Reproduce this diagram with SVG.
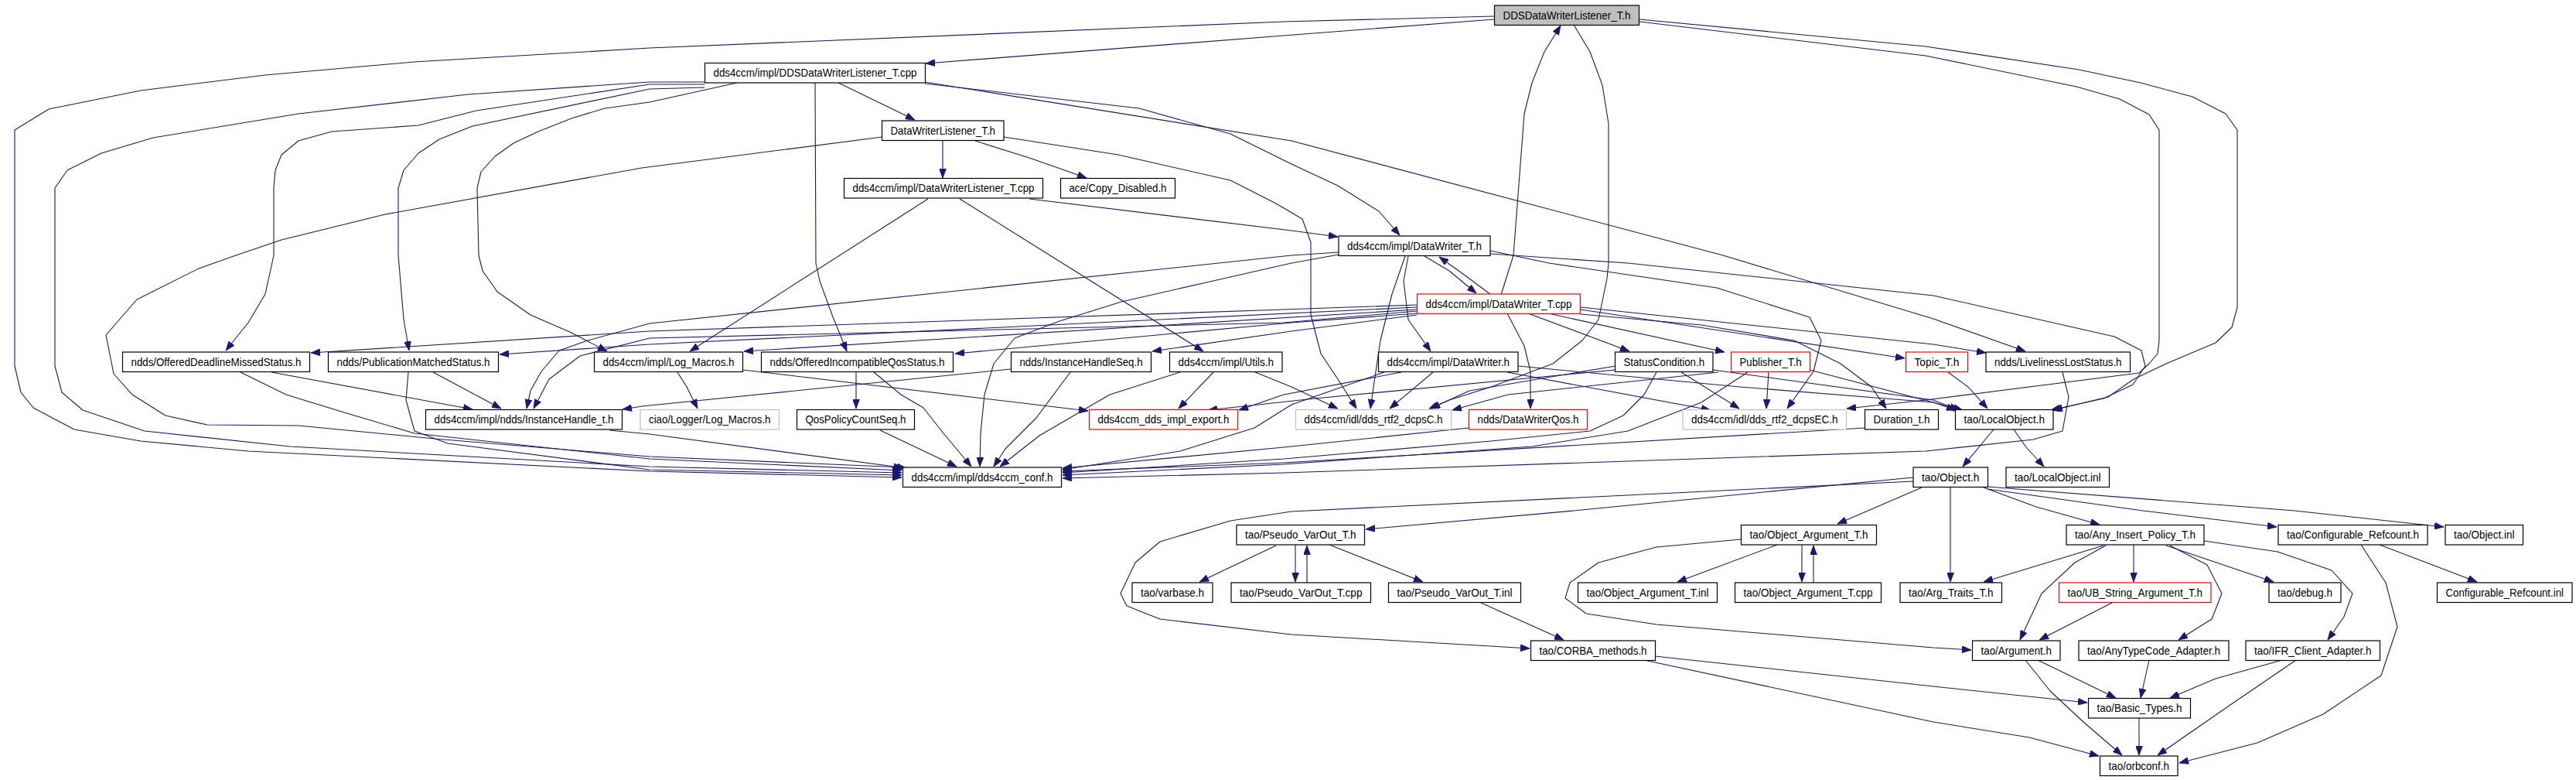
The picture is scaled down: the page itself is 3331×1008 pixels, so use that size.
<svg xmlns="http://www.w3.org/2000/svg" width="3331" height="1008" viewBox="0 0 3331 1008">
<style>
.bg{fill:#ffffff}
rect.n{fill:#ffffff;stroke:#000000;stroke-width:1.2}
rect.g{fill:#ffffff;stroke:#bfbfbf;stroke-width:1.2}
rect.r{fill:#ffffff;stroke:#ff0000;stroke-width:1.2}
rect.root{fill:#bfbfbf;stroke:#000000;stroke-width:1.2}
text{font-family:"Liberation Sans Narrow","Liberation Sans",Arial,sans-serif;font-size:15px;fill:#000000;text-anchor:middle}
#edges path{fill:none;stroke:#191970;stroke-width:1.1;stroke-linejoin:round;marker-end:url(#a)}
</style>
<defs>
<marker id="a" viewBox="0 0 12 9" refX="12" refY="4.5" markerWidth="12" markerHeight="9" markerUnits="userSpaceOnUse" orient="auto">
<path d="M0,0 L12,4.5 L0,9 z" fill="#191970" stroke="#191970" stroke-width="0.8"/>
</marker>
</defs>
<rect class="bg" x="0" y="0" width="3331" height="1008"/>
<g id="edges">
<path d="M1932,25 L1660,46 L1197,82"/>
<path d="M1932,21 L1660,28 L840,62 L536,80 L343,97 L182,117 L63,141 L19,168 L19,473 L27,507 L43,527 L96,555 L182,570 L321,583 L840,609 L1166,617"/>
<path d="M2035,32 L2056,67 L2072,110 L2080,160 L2080,340 L2078,360 L2067,413 L2046,440 L2008,470 L1928,500 L1874,517 L1848,528"/>
<path d="M2120,25 L2490,60 L2688,90 L2768,107 L2835,125 L2878,147 L2893,168 L2893,397 L2886,423 L2865,443 L2801,470 L2759,490 L2726,513 L2655,530"/>
<path d="M2120,28 L2490,72 L2685,112 L2741,128 L2779,148 L2792,168 L2792,440 L2790,457 L2779,470 L2766,482 L2490,517 L2388,528"/>
<path d="M1084,107 L1183,155"/>
<path d="M1219,181 L1219,230"/>
<path d="M1261,182 L1334,205 L1405,230"/>
<path d="M1141,177 L830,217 L498,277 L364,310 L305,330 L257,347 L177,387 L137,433 L147,483 L171,510 L214,537 L268,549 L386,550 L562,567 L840,590 L1168,604"/>
<path d="M911,106 L840,106 L605,122 L386,147 L198,178 L131,198 L87,220 L71,243 L71,473 L80,507 L107,530 L187,557 L375,577 L840,603 L1166,611"/>
<path d="M911,109 L840,109 L616,143 L541,162 L429,170 L386,182 L364,200 L356,220 L354,243 L354,330 L343,380 L321,417 L292,453"/>
<path d="M911,113 L840,115 L611,163 L568,180 L541,198 L522,220 L515,243 L515,330 L522,413 L529,453"/>
<path d="M953,107 L840,132 L782,140 L739,153 L696,170 L664,185 L640,202 L622,222 L617,243 L619,330 L624,350 L643,377 L686,407 L739,430 L785,454"/>
<path d="M1054,107 L1055,340 L1060,363 L1076,407 L1095,454"/>
<path d="M1196,106 L1670,182 L2228,330 L2500,412 L2619,454"/>
<path d="M1196,108 L1473,140 L1591,173 L1670,212 L1730,240 L1783,273 L1810,304"/>
<path d="M1298,177 L1446,200 L1591,233 L1650,263 L1684,283 L1695,313 L1695,407 L1708,457 L1730,490 L1754,528"/>
<path d="M1331,257 L1670,298 L1730,306"/>
<path d="M1200,257 L892,454"/>
<path d="M1241,257 L1556,454"/>
<path d="M1842,331 L1874,350 L1909,379"/>
<path d="M1928,381 L1896,357 L1861,332"/>
<path d="M1941,381 L1957,330 L1971,147 L1981,107 L1997,67 L2018,33"/>
<path d="M1821,331 L1815,363 L1821,413 L1850,454"/>
<path d="M1817,331 L1800,380 L1785,440 L1772,528"/>
<path d="M1731,329 L1670,340 L1560,365 L1450,390 L1370,415 L1312,437 L1285,470 L1273,510 L1268,560 L1267,603"/>
<path d="M1731,326 L1670,330 L840,418 L760,440 L723,453 L700,480 L686,505 L681,528"/>
<path d="M1832,402 L1660,417 L840,437 L750,460 L710,490 L690,528"/>
<path d="M1832,394 L1660,400 L840,428 L402,456"/>
<path d="M1832,397 L840,445 L646,458"/>
<path d="M1832,400 L962,454"/>
<path d="M1832,405 L1670,417 L1235,457"/>
<path d="M1832,407 L1670,428 L1490,454"/>
<path d="M1949,405 L1971,447 L1979,480 L1979,528"/>
<path d="M1976,405 L2107,454"/>
<path d="M2002,405 L2230,455"/>
<path d="M2044,400 L2463,463"/>
<path d="M2044,397 L2500,445 L2568,456"/>
<path d="M2044,406 L2200,420 L2320,440 L2380,470 L2420,500 L2439,528"/>
<path d="M1927,324 L2003,340 L2220,372 L2340,410 L2355,440 L2345,480 L2311,528"/>
<path d="M1927,328 L2105,340 L2500,382 L2734,435 L2769,453 L2774,473 L2758,497 L2720,515 L2652,530"/>
<path d="M1623,481 L1670,500 L1730,528"/>
<path d="M1569,481 L1524,528"/>
<path d="M1526,481 L1435,510 L1344,563 L1293,603"/>
<path d="M876,481 L888,500 L902,528"/>
<path d="M961,478 L1407,531"/>
<path d="M1107,481 L1107,528"/>
<path d="M1130,481 L1165,510 L1194,527 L1220,560 L1256,603"/>
<path d="M1138,556 L1237,603"/>
<path d="M1307,477 L830,525 L805,529"/>
<path d="M1384,481 L1340,540 L1300,580 L1285,603"/>
<path d="M351,481 L611,529"/>
<path d="M311,481 L370,510 L445,533 L536,560 L840,593 L1166,608"/>
<path d="M560,481 L648,528"/>
<path d="M528,481 L525,517 L536,557 L579,573 L840,607 L1166,614"/>
<path d="M788,556 L840,561 L1172,605"/>
<path d="M1853,481 L1797,528"/>
<path d="M1949,481 L2212,530"/>
<path d="M1812,481 L1660,510 L1602,530"/>
<path d="M1963,473 L2250,500 L2500,520 L2529,530"/>
<path d="M1790,481 L1670,523 L1622,553 L1526,583 L1374,607"/>
<path d="M2089,473 L1900,505 L1850,528"/>
<path d="M2089,478 L1700,515 L1562,530"/>
<path d="M2142,481 L2126,510 L2099,537 L2056,557 L1928,570 L1660,593 L1374,611"/>
<path d="M2174,481 L2249,528"/>
<path d="M2215,478 L2500,517 L2533,530"/>
<path d="M2222,481 L1950,510 L1878,530"/>
<path d="M2260,481 L2200,520 L2105,557 L1981,577 L1660,600 L1374,614"/>
<path d="M2287,481 L2284,528"/>
<path d="M2340,478 L2500,520 L2538,530"/>
<path d="M2519,481 L2545,500 L2570,528"/>
<path d="M2667,481 L2675,513 L2667,557 L2629,568 L2490,583 L1660,611 L1374,618"/>
<path d="M2411,553 L1660,598 L1374,609"/>
<path d="M1899,553 L1660,578 L1374,605"/>
<path d="M2578,555 L2538,603"/>
<path d="M2604,555 L2620,578 L2643,603"/>
<path d="M2474,617 L2035,660 L1766,684"/>
<path d="M2474,622 L1670,661 L1591,673 L1500,700 L1468,727 L1449,767 L1457,783 L1500,800 L1670,820 L1978,838"/>
<path d="M2485,630 L2376,677"/>
<path d="M2522,630 L2522,752"/>
<path d="M2565,630 L2633,655 L2715,678"/>
<path d="M2570,632 L2771,660 L2944,681"/>
<path d="M2570,629 L2967,660 L3160,681"/>
<path d="M1650,705 L1551,752"/>
<path d="M1675,704 L1675,752"/>
<path d="M1690,753 L1690,705"/>
<path d="M1719,704 L1840,752"/>
<path d="M1915,779 L2022,827"/>
<path d="M2298,704 L2169,752"/>
<path d="M2330,704 L2330,752"/>
<path d="M2345,753 L2345,705"/>
<path d="M2251,697 L2142,707 L2067,727 L2030,753 L2024,773 L2051,793 L2142,807 L2500,837 L2549,840"/>
<path d="M2140,848 L2500,887 L2699,908"/>
<path d="M2126,853 L2500,933 L2624,953 L2714,977"/>
<path d="M2720,705 L2565,752"/>
<path d="M2723,705 L2683,727 L2640,767 L2612,827"/>
<path d="M2759,704 L2759,752"/>
<path d="M2806,705 L2854,730 L2873,767 L2860,800 L2817,827"/>
<path d="M2801,705 L2940,752"/>
<path d="M2850,699 L2945,713 L3015,737 L3042,767 L3031,797 L3010,827"/>
<path d="M3077,704 L3203,752"/>
<path d="M3053,704 L3085,753 L3100,810 L3079,873 L3004,923 L2919,960 L2818,986"/>
<path d="M2731,779 L2637,827"/>
<path d="M2635,853 L2736,902"/>
<path d="M2619,853 L2651,893 L2694,933 L2744,976"/>
<path d="M2779,853 L2768,902"/>
<path d="M2951,853 L2865,877 L2806,902"/>
<path d="M2969,853 L2881,913 L2790,976"/>
<path d="M2766,928 L2766,976"/>
</g>
<g id="n_root"><rect class="root" x="1932.5" y="7" width="187" height="25.5"/><text x="2026" y="24.5" textLength="165" lengthAdjust="spacingAndGlyphs">DDSDataWriterListener_T.h</text></g>
<g id="n_ddscpp"><rect class="n" x="911.5" y="81.5" width="285" height="25.5"/><text x="1054" y="99" textLength="263" lengthAdjust="spacingAndGlyphs">dds4ccm/impl/DDSDataWriterListener_T.cpp</text></g>
<g id="n_dwlh"><rect class="n" x="1140.5" y="156" width="157.5" height="25.5"/><text x="1219.25" y="173.5" textLength="135.5" lengthAdjust="spacingAndGlyphs">DataWriterListener_T.h</text></g>
<g id="n_dwlcpp"><rect class="n" x="1091.5" y="230.5" width="257" height="25.5"/><text x="1220" y="248" textLength="235" lengthAdjust="spacingAndGlyphs">dds4ccm/impl/DataWriterListener_T.cpp</text></g>
<g id="n_copy"><rect class="n" x="1371.5" y="230.5" width="148" height="25.5"/><text x="1445.5" y="248" textLength="126" lengthAdjust="spacingAndGlyphs">ace/Copy_Disabled.h</text></g>
<g id="n_dwth"><rect class="n" x="1731" y="305" width="196" height="25.5"/><text x="1829" y="322.5" textLength="174" lengthAdjust="spacingAndGlyphs">dds4ccm/impl/DataWriter_T.h</text></g>
<g id="n_dwtcpp"><rect class="r" x="1832.5" y="380" width="211" height="25.5"/><text x="1938" y="397.5" textLength="189" lengthAdjust="spacingAndGlyphs">dds4ccm/impl/DataWriter_T.cpp</text></g>
<g id="n_odms"><rect class="n" x="158.5" y="455" width="242" height="25.5"/><text x="279.5" y="472.5" textLength="220" lengthAdjust="spacingAndGlyphs">ndds/OfferedDeadlineMissedStatus.h</text></g>
<g id="n_pms"><rect class="n" x="424.5" y="455" width="220" height="25.5"/><text x="534.5" y="472.5" textLength="198" lengthAdjust="spacingAndGlyphs">ndds/PublicationMatchedStatus.h</text></g>
<g id="n_logm"><rect class="n" x="768.5" y="455" width="192" height="25.5"/><text x="864.5" y="472.5" textLength="170" lengthAdjust="spacingAndGlyphs">dds4ccm/impl/Log_Macros.h</text></g>
<g id="n_oiqs"><rect class="n" x="984.5" y="455" width="248" height="25.5"/><text x="1108.5" y="472.5" textLength="226" lengthAdjust="spacingAndGlyphs">ndds/OfferedIncompatibleQosStatus.h</text></g>
<g id="n_ihs"><rect class="n" x="1307.5" y="455" width="181" height="25.5"/><text x="1398" y="472.5" textLength="159" lengthAdjust="spacingAndGlyphs">ndds/InstanceHandleSeq.h</text></g>
<g id="n_utils"><rect class="n" x="1512.5" y="455" width="145.5" height="25.5"/><text x="1585.25" y="472.5" textLength="123.5" lengthAdjust="spacingAndGlyphs">dds4ccm/impl/Utils.h</text></g>
<g id="n_dwh"><rect class="n" x="1782.5" y="455" width="180.5" height="25.5"/><text x="1872.75" y="472.5" textLength="158.5" lengthAdjust="spacingAndGlyphs">dds4ccm/impl/DataWriter.h</text></g>
<g id="n_sc"><rect class="n" x="2088.5" y="455" width="126.5" height="25.5"/><text x="2151.75" y="472.5" textLength="104.5" lengthAdjust="spacingAndGlyphs">StatusCondition.h</text></g>
<g id="n_pub"><rect class="r" x="2238.5" y="455" width="102" height="25.5"/><text x="2289.5" y="472.5" textLength="80" lengthAdjust="spacingAndGlyphs">Publisher_T.h</text></g>
<g id="n_topic"><rect class="r" x="2464.5" y="455" width="80" height="25.5"/><text x="2504.5" y="472.5" textLength="58" lengthAdjust="spacingAndGlyphs">Topic_T.h</text></g>
<g id="n_lls"><rect class="n" x="2568" y="455" width="186.5" height="25.5"/><text x="2661.25" y="472.5" textLength="164.5" lengthAdjust="spacingAndGlyphs">ndds/LivelinessLostStatus.h</text></g>
<g id="n_iht"><rect class="n" x="550.5" y="529.5" width="254" height="25.5"/><text x="677.5" y="547" textLength="232" lengthAdjust="spacingAndGlyphs">dds4ccm/impl/ndds/InstanceHandle_t.h</text></g>
<g id="n_ciao"><rect class="g" x="828" y="529.5" width="179.5" height="25.5"/><text x="917.75" y="547" textLength="157.5" lengthAdjust="spacingAndGlyphs">ciao/Logger/Log_Macros.h</text></g>
<g id="n_qpcs"><rect class="n" x="1030.5" y="529.5" width="152" height="25.5"/><text x="1106.5" y="547" textLength="130" lengthAdjust="spacingAndGlyphs">QosPolicyCountSeq.h</text></g>
<g id="n_exp"><rect class="r" x="1408.5" y="529.5" width="192" height="25.5"/><text x="1504.5" y="547" textLength="170" lengthAdjust="spacingAndGlyphs">dds4ccm_dds_impl_export.h</text></g>
<g id="n_dcpsc"><rect class="g" x="1675.5" y="529.5" width="201" height="25.5"/><text x="1776" y="547" textLength="179" lengthAdjust="spacingAndGlyphs">dds4ccm/idl/dds_rtf2_dcpsC.h</text></g>
<g id="n_dwq"><rect class="r" x="1899.5" y="529.5" width="153" height="25.5"/><text x="1976" y="547" textLength="131" lengthAdjust="spacingAndGlyphs">ndds/DataWriterQos.h</text></g>
<g id="n_dcpsec"><rect class="g" x="2176" y="529.5" width="211.5" height="25.5"/><text x="2281.75" y="547" textLength="189.5" lengthAdjust="spacingAndGlyphs">dds4ccm/idl/dds_rtf2_dcpsEC.h</text></g>
<g id="n_dur"><rect class="n" x="2411.5" y="529.5" width="95" height="25.5"/><text x="2459" y="547" textLength="73" lengthAdjust="spacingAndGlyphs">Duration_t.h</text></g>
<g id="n_lo"><rect class="n" x="2528.5" y="529.5" width="126.5" height="25.5"/><text x="2591.75" y="547" textLength="104.5" lengthAdjust="spacingAndGlyphs">tao/LocalObject.h</text></g>
<g id="n_conf"><rect class="n" x="1167.5" y="604" width="205" height="25.5"/><text x="1270" y="621.5" textLength="183" lengthAdjust="spacingAndGlyphs">dds4ccm/impl/dds4ccm_conf.h</text></g>
<g id="n_obj"><rect class="n" x="2474" y="604" width="96.5" height="25.5"/><text x="2522.25" y="621.5" textLength="74.5" lengthAdjust="spacingAndGlyphs">tao/Object.h</text></g>
<g id="n_loinl"><rect class="n" x="2594" y="604" width="133.5" height="25.5"/><text x="2660.75" y="621.5" textLength="111.5" lengthAdjust="spacingAndGlyphs">tao/LocalObject.inl</text></g>
<g id="n_pvo"><rect class="n" x="1599" y="678.5" width="165.5" height="25.5"/><text x="1681.75" y="696" textLength="143.5" lengthAdjust="spacingAndGlyphs">tao/Pseudo_VarOut_T.h</text></g>
<g id="n_oat"><rect class="n" x="2251.5" y="678.5" width="175" height="25.5"/><text x="2339" y="696" textLength="153" lengthAdjust="spacingAndGlyphs">tao/Object_Argument_T.h</text></g>
<g id="n_aip"><rect class="n" x="2672" y="678.5" width="178" height="25.5"/><text x="2761" y="696" textLength="156" lengthAdjust="spacingAndGlyphs">tao/Any_Insert_Policy_T.h</text></g>
<g id="n_cr"><rect class="n" x="2946" y="678.5" width="193" height="25.5"/><text x="3042.5" y="696" textLength="171" lengthAdjust="spacingAndGlyphs">tao/Configurable_Refcount.h</text></g>
<g id="n_objinl"><rect class="n" x="3162" y="678.5" width="100.5" height="25.5"/><text x="3212.25" y="696" textLength="78.5" lengthAdjust="spacingAndGlyphs">tao/Object.inl</text></g>
<g id="n_varbase"><rect class="n" x="1464" y="753" width="104" height="25.5"/><text x="1516" y="770.5" textLength="82" lengthAdjust="spacingAndGlyphs">tao/varbase.h</text></g>
<g id="n_pvocpp"><rect class="n" x="1592" y="753" width="180.5" height="25.5"/><text x="1682.25" y="770.5" textLength="158.5" lengthAdjust="spacingAndGlyphs">tao/Pseudo_VarOut_T.cpp</text></g>
<g id="n_pvoinl"><rect class="n" x="1795.5" y="753" width="171" height="25.5"/><text x="1881" y="770.5" textLength="149" lengthAdjust="spacingAndGlyphs">tao/Pseudo_VarOut_T.inl</text></g>
<g id="n_oatinl"><rect class="n" x="2040.5" y="753" width="180" height="25.5"/><text x="2130.5" y="770.5" textLength="158" lengthAdjust="spacingAndGlyphs">tao/Object_Argument_T.inl</text></g>
<g id="n_oatcpp"><rect class="n" x="2243.5" y="753" width="189" height="25.5"/><text x="2338" y="770.5" textLength="167" lengthAdjust="spacingAndGlyphs">tao/Object_Argument_T.cpp</text></g>
<g id="n_argt"><rect class="n" x="2457" y="753" width="131.5" height="25.5"/><text x="2522.75" y="770.5" textLength="109.5" lengthAdjust="spacingAndGlyphs">tao/Arg_Traits_T.h</text></g>
<g id="n_ubs"><rect class="r" x="2662.5" y="753" width="196.5" height="25.5"/><text x="2760.75" y="770.5" textLength="174.5" lengthAdjust="spacingAndGlyphs">tao/UB_String_Argument_T.h</text></g>
<g id="n_debug"><rect class="n" x="2934" y="753" width="93" height="25.5"/><text x="2980.5" y="770.5" textLength="71" lengthAdjust="spacingAndGlyphs">tao/debug.h</text></g>
<g id="n_crinl"><rect class="n" x="3151.5" y="753" width="174.5" height="25.5"/><text x="3238.75" y="770.5" textLength="152.5" lengthAdjust="spacingAndGlyphs">Configurable_Refcount.inl</text></g>
<g id="n_corba"><rect class="n" x="1979.5" y="828" width="161" height="25.5"/><text x="2060" y="845.5" textLength="139" lengthAdjust="spacingAndGlyphs">tao/CORBA_methods.h</text></g>
<g id="n_arg"><rect class="n" x="2550.5" y="828" width="113.5" height="25.5"/><text x="2607.25" y="845.5" textLength="91.5" lengthAdjust="spacingAndGlyphs">tao/Argument.h</text></g>
<g id="n_atca"><rect class="n" x="2688" y="828" width="194" height="25.5"/><text x="2785" y="845.5" textLength="172" lengthAdjust="spacingAndGlyphs">tao/AnyTypeCode_Adapter.h</text></g>
<g id="n_ifr"><rect class="n" x="2904" y="828" width="173.5" height="25.5"/><text x="2990.75" y="845.5" textLength="151.5" lengthAdjust="spacingAndGlyphs">tao/IFR_Client_Adapter.h</text></g>
<g id="n_bt"><rect class="n" x="2700.5" y="902.5" width="132" height="25.5"/><text x="2766.5" y="920" textLength="110" lengthAdjust="spacingAndGlyphs">tao/Basic_Types.h</text></g>
<g id="n_orb"><rect class="n" x="2715.5" y="977" width="100.5" height="25.5"/><text x="2765.75" y="994.5" textLength="78.5" lengthAdjust="spacingAndGlyphs">tao/orbconf.h</text></g>
</svg>
